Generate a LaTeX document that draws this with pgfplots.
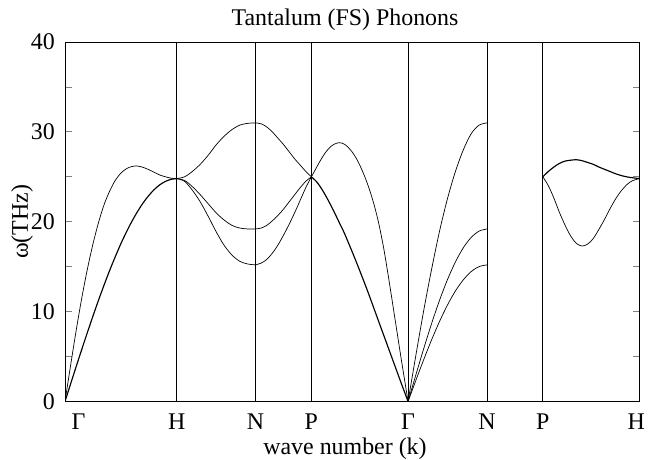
\documentclass[border=0pt]{standalone}
\usepackage{fontspec}
\setmainfont{Liberation Serif}
\usepackage{pgfplots}
\pgfplotsset{compat=1.18}
\begin{document}
\begin{tikzpicture}[font=\fontsize{24}{28}\selectfont]
\useasboundingbox (0,0) rectangle (659bp,460bp);
\begin{axis}[
  at={(65bp,58.5bp)}, anchor=south west,
  scale only axis, width=574.5bp, height=359.5bp,
  xmin=0, xmax=5.1463, ymin=0, ymax=40,
  axis line style={line width=0.8bp},
  xtick={0,1,1.7071,2.2071,3.0731,3.7802,4.2802,5.1463},
  xticklabels={\makebox[0pt][l]{\hspace{6.7bp}Γ},H,N,P,Γ,N,P,\makebox[0pt][r]{H\hspace{-5.5bp}}},
  xtick style={draw=none},
  xmajorgrids,
  major x grid style={black, solid, line width=0.8bp},
  xticklabel style={anchor=base, yshift=-27.8bp},
  ytick={0,5,...,40},
  yticklabels={0,,10,,20,,30,,40},
  ytick pos=both, yticklabel pos=left,
  tick align=inside,
  major tick length=6.7bp,
  ytick style={line width=0.8bp},
  yticklabel style={inner sep=0pt, xshift=-10bp},
  title={Tantalum (FS) Phonons},
  every axis title/.style={at={(0.4874,1)}, anchor=base, yshift=16bp},
  xlabel={wave number (k)},
  every axis x label/.style={at={(axis description cs:0.4874,0)}, anchor=base, yshift=-52.5bp},
  ylabel={ω(THz)},
  every axis y label/.style={at={(axis description cs:-0.0644,0.5)}, rotate=90, anchor=base},
  every axis plot/.append style={black, smooth, tension=0.5},
  thin/.style={line width=0.7bp},
  thick2/.style={line width=1.15bp},
]
% Gamma-H
\addplot[thin] coordinates {(0,0) (0.05,4.0) (0.1,7.9) (0.15,11.5) (0.2,14.7) (0.25,17.5) (0.3,19.9) (0.35,21.9) (0.4,23.4) (0.45,24.6) (0.5,25.4) (0.55,25.9) (0.6,26.15) (0.65,26.2) (0.7,26.05) (0.75,25.8) (0.8,25.5) (0.85,25.2) (0.9,25.0) (0.95,24.85) (1.0,24.8)};
\addplot[thick2] coordinates {(0,0) (0.05,1.95) (0.1,3.88) (0.15,5.79) (0.2,7.66) (0.25,9.49) (0.3,11.26) (0.35,12.96) (0.4,14.58) (0.45,16.10) (0.5,17.54) (0.55,18.86) (0.6,20.06) (0.65,21.14) (0.7,22.10) (0.75,22.91) (0.8,23.59) (0.85,24.12) (0.9,24.49) (0.95,24.72) (1.0,24.8)};
% H-N
\addplot[thin] coordinates {(1,24.8) (1.0707,25.0) (1.1414,25.6) (1.2121,26.4) (1.2828,27.4) (1.3536,28.55) (1.4243,29.5) (1.4950,30.25) (1.5657,30.75) (1.6364,30.95) (1.7071,31.0)};
\addplot[thin] coordinates {(1,24.8) (1.0707,24.6) (1.1414,23.9) (1.2121,23.0) (1.2828,22.0) (1.3536,21.0) (1.4243,20.2) (1.4950,19.6) (1.5657,19.3) (1.6364,19.2) (1.7071,19.2)};
\addplot[thin] coordinates {(1,24.8) (1.0707,24.5) (1.1414,23.5) (1.2121,22.2) (1.2828,20.6) (1.3536,18.9) (1.4243,17.4) (1.4950,16.3) (1.5657,15.6) (1.6364,15.3) (1.7071,15.2)};
% N-P
\addplot[thin] coordinates {(1.7071,31.0) (1.7571,30.9) (1.8071,30.55) (1.8571,30.0) (1.9071,29.3) (1.9571,28.6) (2.0071,27.8) (2.0571,27.0) (2.1071,26.3) (2.1571,25.6) (2.2071,25.0)};
\addplot[thin] coordinates {(1.7071,19.2) (1.7571,19.3) (1.8071,19.6) (1.8571,20.1) (1.9071,20.7) (1.9571,21.4) (2.0071,22.2) (2.0571,23.0) (2.1071,23.8) (2.1571,24.5) (2.2071,25.0)};
\addplot[thin] coordinates {(1.7071,15.2) (1.7571,15.4) (1.8071,15.8) (1.8571,16.5) (1.9071,17.4) (1.9571,18.5) (2.0071,19.7) (2.0571,21.0) (2.1071,22.4) (2.1571,23.8) (2.2071,25.0)};
% P-Gamma
\addplot[thin] coordinates {(2.2071,25.0) (2.2471,25.9) (2.2871,26.8) (2.3271,27.6) (2.3671,28.2) (2.4071,28.6) (2.4571,28.8) (2.5071,28.6) (2.5571,28.0) (2.6071,27.1) (2.6571,25.85) (2.7071,24.3) (2.7571,22.4) (2.8071,20.0) (2.8571,16.9) (2.9071,13.1) (2.9571,9.1) (3.0071,5.1) (3.0731,0)};
\addplot[thick2] coordinates {(2.2071,25.0) (2.2571,24.4) (2.3071,23.5) (2.3571,22.4) (2.4071,21.2) (2.4571,19.9) (2.5071,18.6) (2.6071,15.6) (2.7071,12.4) (2.8071,9.0) (2.9071,5.6) (3.0071,2.2) (3.0731,0)};
% Gamma-N
\addplot[thin] coordinates {(3.0731,0) (3.1438,5.2) (3.2145,10.2) (3.2852,14.8) (3.3559,19.0) (3.4267,22.6) (3.4974,25.6) (3.5681,28.0) (3.6388,29.8) (3.7095,30.75) (3.7802,31.0)};
\addplot[thin] coordinates {(3.0731,0) (3.1438,3.00) (3.2145,5.93) (3.2852,8.72) (3.3559,11.29) (3.4267,13.58) (3.4974,15.53) (3.5681,17.11) (3.6388,18.26) (3.7095,18.96) (3.7802,19.2)};
\addplot[thin] coordinates {(3.0731,0) (3.1438,2.38) (3.2145,4.70) (3.2852,6.90) (3.3559,8.93) (3.4267,10.75) (3.4974,12.30) (3.5681,13.54) (3.6388,14.46) (3.7095,15.01) (3.7802,15.2)};
% P-H
\addplot[thick2] coordinates {(4.2802,25.0) (4.3302,25.6) (4.3802,26.1) (4.4302,26.5) (4.4802,26.75) (4.5302,26.85) (4.5802,26.9) (4.6302,26.8) (4.6802,26.6) (4.7302,26.4) (4.7802,26.1) (4.8302,25.85) (4.8802,25.6) (4.9302,25.35) (4.9802,25.15) (5.0302,25.0) (5.0802,24.9) (5.1463,24.8)};
\addplot[thin] coordinates {(4.2802,25.0) (4.3302,24.0) (4.3802,22.6) (4.4302,21.0) (4.4802,19.6) (4.5302,18.4) (4.5802,17.6) (4.6302,17.3) (4.6802,17.5) (4.7302,18.1) (4.7802,19.1) (4.8302,20.2) (4.8802,21.4) (4.9302,22.5) (4.9802,23.4) (5.0302,24.1) (5.0802,24.55) (5.1463,24.8)};
\end{axis}
\end{tikzpicture}
\end{document}
